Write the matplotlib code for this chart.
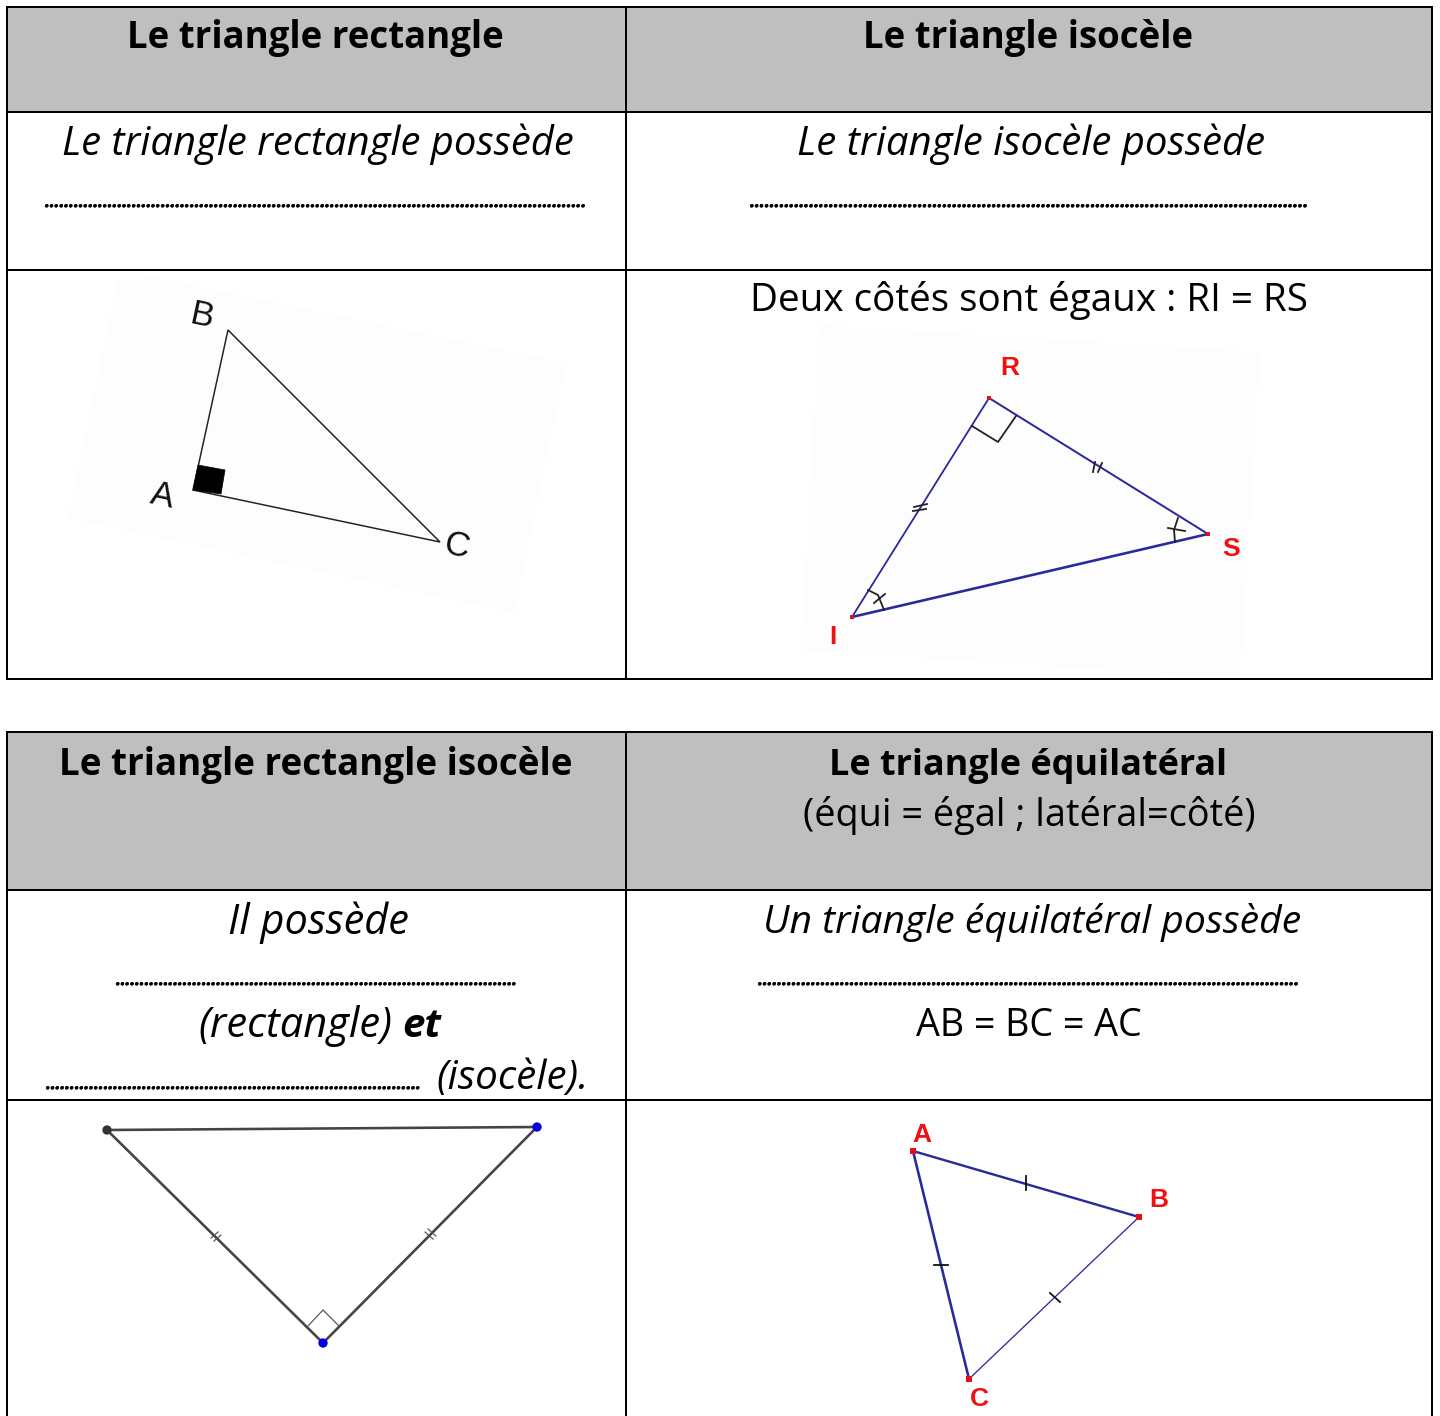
import matplotlib
matplotlib.use("Agg")
import matplotlib.patheffects as pe
import matplotlib.pyplot as plt
from matplotlib.patches import Polygon

W, H = 1440, 1416
FONT = "Open Sans"
LABEL_FONT = "Liberation Sans"

# table grid, in pixels of the page
col_x = [7, 626, 1432]
upper_rows = [7, 112, 270, 679]
lower_rows = [732, 890, 1100, 1416]
header_grey = "#bfbfbf"
# stretches where a pasted picture eats half of the rule
page_gaps = [(120, 133, 270.6), (1206, 1240, 679.6), (72, 565, 1100.6)]

# text runs: string, left, right, baseline, weight, style
header_texts = [
    ("Le triangle rectangle", 127, 504, 48, "bold", "normal"),
    ("Le triangle isocèle", 863, 1193, 48, "bold", "normal"),
    ("Le triangle rectangle isocèle", 59, 572, 775, "bold", "normal"),
    ("Le triangle équilatéral", 829, 1227, 775, "bold", "normal"),
]
body_texts = [
    ("Le triangle rectangle possède", 62, 575, 155, "normal", "italic"),
    ("Le triangle isocèle possède", 797, 1265, 155, "normal", "italic"),
    ("Deux côtés sont égaux : RI = RS", 750, 1309, 311, "normal", "normal"),
    ("(équi = égal ; latéral=côté)", 803, 1255, 826, "normal", "normal"),
    ("Il possède", 228, 409, 934, "normal", "italic"),
    ("(rectangle)", 198, 392, 1037, "normal", "italic"),
    ("et", 402, 441, 1037, "bold", "italic"),
    ("(isocèle).", 436, 588, 1089, "normal", "italic"),
    ("Un triangle équilatéral possède", 763, 1301, 933, "normal", "italic"),
    ("AB = BC = AC", 916, 1143, 1036, "normal", "normal"),
]
dot_lines = [
    ("…" * 37 + ".", 45, 585, 207),
    ("…" * 37 + "..", 750, 1307, 207),
    ("…" * 28, 116, 516, 985),
    ("…" * 26, 46, 420, 1089),
    ("…" * 37 + ".", 758, 1298, 985),
]

# triangle BAC
bac_sheet = [(120, 270), (566, 363), (514, 613), (68, 518)]
bac_triangle = [(228, 330), (193, 490), (440, 542)]
bac_square = [(198, 465), (225, 470), (221, 494), (193, 490)]
bac_labels = [("B", 201, 316), ("A", 162, 496), ("C", 456, 546)]

# triangle RIS, with one width per edge
ris_sheet = [(819, 325), (1260, 352), (1240, 678), (801, 650)]
ris_triangle = [(989, 398), (1208, 534), (852, 617)]
ris_edge_widths = [2.0, 2.6, 1.8]
ris_labels = [("R", 1010, 368), ("S", 1231, 549), ("I", 833, 637)]
ris_marks = [
    [(972, 426), (998, 442), (1016, 416)],
    [(914, 507), (927, 504)],
    [(913, 511), (926, 509)],
    [(1095, 462), (1093, 472)],
    [(1102, 463), (1098, 472)],
    [(868, 590), (878, 595), (884, 610)],
    [(874, 603), (885, 594)],
    [(1178, 518), (1174, 530), (1175, 542)],
    [(1168, 528), (1185, 531)],
]

# isosceles right triangle
iso_triangle = [(107, 1130), (537, 1127), (323, 1343)]
iso_point_colors = ["#333333", "#0000e0", "#0000e0"]
iso_marks = [
    [(308, 1326), (323, 1310), (339, 1326)],
    [(211, 1238), (218, 1232)],
    [(214, 1241), (221, 1235)],
    [(425, 1232), (433, 1239)],
    [(428, 1229), (436, 1236)],
]

# equilateral triangle, with one width per edge
abc_triangle = [(913, 1151), (1139, 1217), (969, 1379)]
abc_edge_widths = [2.4, 1.3, 2.6]
abc_labels = [("A", 922, 1135), ("B", 1159, 1200), ("C", 979, 1399)]
abc_marks = [
    [(1026, 1176), (1026, 1190)],
    [(934, 1265), (948, 1265)],
    [(1050, 1293), (1060, 1302)],
]


def px(n):
    return n * 0.72


def fit_text(ax, renderer, s, left, right, base, weight="normal", style="normal"):
    t = ax.text(left, base, s, family=FONT, fontsize=30, weight=weight, style=style,
                ha="left", va="baseline", color="black", zorder=5)
    w = t.get_window_extent(renderer).width
    t.set_fontsize(30 * (right - left) / w)
    return t


def draw_marks(ax, marks, color="#222222", lw=1.8):
    for mark in marks:
        ax.plot([p[0] for p in mark], [p[1] for p in mark], color=color, lw=px(lw), zorder=4)


def draw_edges(ax, points, widths, color="#2a2a9a"):
    for i, width in enumerate(widths):
        a, b = points[i], points[(i + 1) % len(points)]
        ax.plot([a[0], b[0]], [a[1], b[1]], color=color, lw=px(width), zorder=4)


def main():
    fig = plt.figure(figsize=(W / 100, H / 100), dpi=100)
    ax = fig.add_axes([0, 0, 1, 1])
    ax.set_xlim(0, W)
    ax.set_ylim(H, 0)
    ax.axis("off")
    renderer = fig.canvas.get_renderer()

    # grey header bands
    ax.fill_between(col_x[::2], upper_rows[0], upper_rows[1], color=header_grey, lw=0, zorder=0)
    ax.fill_between(col_x[::2], lower_rows[0], lower_rows[1], color=header_grey, lw=0, zorder=0)

    # pale picture sheets go under the rules here
    for sheet in (bac_sheet, ris_sheet):
        ax.add_patch(Polygon(sheet, closed=True, facecolor="#fdfdfd", edgecolor="none", zorder=1))

    # grid
    for rows, closed in ((upper_rows, True), (lower_rows, False)):
        for y in rows if closed else rows[:-1]:
            ax.plot(col_x[::2], [y, y], color="black", lw=px(2), solid_capstyle="projecting", zorder=2)
        for x in col_x:
            ax.plot([x, x], [rows[0], rows[-1]], color="black", lw=px(2), zorder=2)
    for x0, x1, y in page_gaps:
        ax.plot([x0, x1], [y, y], color="white", lw=px(1), solid_capstyle="butt", zorder=3)

    # pictures
    ax.add_patch(Polygon(bac_triangle, closed=True, fill=False, edgecolor="#222222", lw=px(1.5), zorder=4))
    ax.add_patch(Polygon(bac_square, closed=True, facecolor="black", edgecolor="black", lw=0.5, zorder=4))
    for s, x, y in bac_labels:
        ax.text(x, y, s, family=LABEL_FONT, fontsize=25, rotation=-12, ha="center", va="center",
                color="#111111", zorder=5)

    draw_edges(ax, ris_triangle, ris_edge_widths)
    draw_marks(ax, ris_marks)
    ax.scatter(*zip(*ris_triangle), s=12, marker="s", color="#e0101a", lw=0, zorder=5)
    for s, x, y in ris_labels:
        ax.text(x, y, s, family=LABEL_FONT, fontsize=19, weight="bold", ha="center", va="center",
                color="#f01010", zorder=5)

    ax.add_patch(Polygon(iso_triangle, closed=True, fill=False, edgecolor="#444444", lw=px(2.6), zorder=4))
    draw_marks(ax, iso_marks, color="#555555", lw=1.2)
    ax.scatter(*zip(*iso_triangle), s=45, color=iso_point_colors, lw=0, zorder=5)

    draw_edges(ax, abc_triangle, abc_edge_widths)
    draw_marks(ax, abc_marks, color="#111111")
    ax.scatter(*zip(*abc_triangle), s=18, marker="s", color="#e0101a", lw=0, zorder=5)
    for s, x, y in abc_labels:
        ax.text(x, y, s, family=LABEL_FONT, fontsize=19, weight="bold", ha="center", va="center",
                color="#f01010", zorder=5)

    # text
    for s, left, right, base, weight, style in header_texts + body_texts:
        fit_text(ax, renderer, s, left, right, base, weight, style)
    for s, left, right, base in dot_lines:
        t = fit_text(ax, renderer, s, left, right, base, "bold", "italic")
        # the leaders are heavier than a small font gives
        t.set_path_effects([pe.withStroke(linewidth=px(0.7), foreground="black")])

    fig.savefig("out.png", dpi=100)


if __name__ == "__main__":
    main()
